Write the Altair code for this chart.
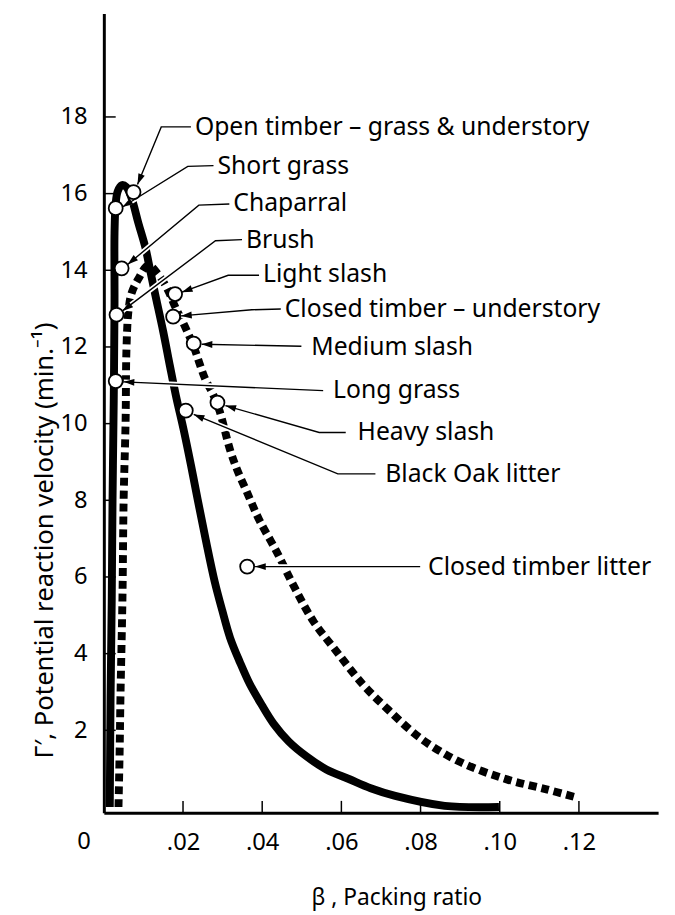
import math
import altair as alt
import pandas as pd

# ---------------- data ----------------
# Solid heavy curve (Gamma' vs beta)
solid_x = [0.0015, 0.0017, 0.0020, 0.0022, 0.0025, 0.0027, 0.0027, 0.0030, 0.0035, 0.0045,
           0.0057, 0.0070, 0.0087, 0.0105, 0.0117, 0.0130, 0.0150, 0.0167, 0.0182, 0.0202,
           0.0220, 0.0237, 0.0257, 0.0280, 0.0299, 0.0319, 0.0344, 0.0369, 0.0399, 0.0429,
           0.0467, 0.0512, 0.0562, 0.0619, 0.0674, 0.0736, 0.0861, 0.0998]
solid_y = [0.0, 2.87, 5.44, 8.02, 10.6, 13.17, 14.98, 15.75, 16.06, 16.22,
           16.17, 15.88, 15.24, 14.59, 14.0, 13.36, 12.40, 11.5, 10.73, 9.82,
           8.92, 8.02, 6.99, 5.88, 5.13, 4.41, 3.77, 3.2, 2.66, 2.17,
           1.71, 1.32, 0.98, 0.73, 0.49, 0.29, 0.03, 0.0]

# Dashed heavy curve
dashed_x = [0.0037, 0.0040, 0.0042, 0.0047, 0.0050, 0.0055, 0.0057, 0.0062, 0.0070, 0.0087,
            0.0112, 0.0137, 0.0162, 0.0180, 0.0205, 0.0227, 0.0255, 0.0275, 0.0292, 0.0319,
            0.0337, 0.0362, 0.0392, 0.0437, 0.0479, 0.0529, 0.0586, 0.0654, 0.0719, 0.0804,
            0.0903, 0.1018, 0.1118, 0.1190]
dashed_y = [0.0, 1.5, 2.87, 5.44, 8.02, 10.08, 11.89, 12.92, 13.4, 13.77,
            14.13, 13.9, 13.48, 13.05, 12.53, 12.01, 11.19, 10.78, 10.34, 9.31,
            8.79, 8.2, 7.5, 6.65, 5.78, 4.85, 4.08, 3.2, 2.53, 1.76,
            1.16, 0.72, 0.46, 0.26]

# Fuel types (open circles)
fuel_names = ["Open timber \u2013 grass & understory", "Short grass", "Chaparral", "Brush",
              "Light slash", "Closed timber \u2013 understory", "Medium slash", "Long grass",
              "Heavy slash", "Black Oak litter", "Closed timber litter"]
fuel_x = [0.0075, 0.0030, 0.0045, 0.0032, 0.0180, 0.0175, 0.0227, 0.0030, 0.0287, 0.0207, 0.0362]
fuel_y = [16.04, 15.62, 14.05, 12.84, 13.38, 12.79, 12.09, 11.11, 10.55, 10.34, 6.27]

# Annotation text anchors and leader lines (start -> elbow -> arrow tip)
label_x = [0.0230, 0.0287, 0.0327, 0.0359, 0.0402, 0.0457, 0.0524, 0.0579, 0.0641, 0.0711, 0.0819]
label_y = [17.74, 16.73, 15.75, 14.80, 13.90, 12.99, 11.99, 10.88, 9.77, 8.69, 6.27]
start_x = [0.0220, 0.0277, 0.0317, 0.0349, 0.0392, 0.0447, 0.0499, 0.0554, 0.0611, 0.0686, 0.0799]
start_y = [17.74, 16.73, 15.73, 14.80, 13.87, 12.99, 12.02, 10.86, 9.77, 8.69, 6.27]
elbow_x = [0.0145, 0.0212, 0.0240, 0.0282, 0.0314, 0.0374, 0.0499, 0.0554, 0.0544, 0.0591, 0.0799]
elbow_y = [17.74, 16.71, 15.70, 14.77, 13.87, 12.97, 12.02, 10.86, 9.77, 8.69, 6.27]
tip_x = [0.0085, 0.0047, 0.0060, 0.0047, 0.0197, 0.0195, 0.0247, 0.0050, 0.0307, 0.0227, 0.0382]
tip_y = [16.24, 15.65, 14.15, 12.94, 13.43, 12.81, 12.07, 11.09, 10.47, 10.24, 6.27]

x_ticks = [0.02, 0.04, 0.06, 0.08, 0.10, 0.12]
y_ticks = [2, 4, 6, 8, 10, 12, 14, 16, 18]

# ---------------- layout / style ----------------
W, H = 561, 809
X_DOM = [0.0, 0.14]
Y_DOM = [-0.15, 20.7]
FONT = "Noto Sans"
PXX = W / (X_DOM[1] - X_DOM[0])
PXY = H / (Y_DOM[1] - Y_DOM[0])

XS = alt.Scale(domain=X_DOM, nice=False, zero=False)
YS = alt.Scale(domain=Y_DOM, nice=False, zero=False)

x_axis = alt.Axis(
    values=x_ticks, labelExpr="replace(format(datum.value, '.2f'), '0.', '.')",
    title="\u03b2 , Packing ratio", titleFont=FONT, titleFontSize=23, titleFontWeight="normal",
    titleColor="black", titleX=296, titleY=86, titleAlign="center", titleBaseline="middle",
    labelFont=FONT, labelFontSize=24, labelColor="black", labelPadding=18, labelBaseline="top",
    ticks=False, tickSize=0, grid=False, domainColor="black", domainWidth=3,
    labelFlush=False, labelOverlap=False,
)
y_axis = alt.Axis(
    values=y_ticks, format="d",
    title="\u0393\u2032, Potential reaction velocity (min.\u207b\u00b9)", titleFont=FONT,
    titleFontSize=26, titleFontWeight="normal", titleColor="black", titleAngle=270,
    titleX=-60, titleY=533, titleAlign="center", titleBaseline="middle",
    labelFont=FONT, labelFontSize=24, labelColor="black", labelPadding=17,
    ticks=False, tickSize=0, grid=False, domainColor="black", domainWidth=3,
    labelFlush=False, labelOverlap=False,
)

solid_df = pd.DataFrame({"x": solid_x, "y": solid_y, "i": list(range(len(solid_x)))})
dashed_df = pd.DataFrame({"x": dashed_x, "y": dashed_y, "i": list(range(len(dashed_x)))})
fuel_df = pd.DataFrame({"name": fuel_names, "x": fuel_x, "y": fuel_y,
                        "lx": label_x, "ly": label_y})

rows = []
arrows = []
for k, nm in enumerate(fuel_names):
    pts = [(start_x[k], start_y[k]), (elbow_x[k], elbow_y[k]), (tip_x[k], tip_y[k])]
    for j, (px, py) in enumerate(pts):
        rows.append({"name": nm, "j": j, "x": px, "y": py})
    dxp = (tip_x[k] - elbow_x[k]) * PXX
    dyp = -(tip_y[k] - elbow_y[k]) * PXY
    if abs(dxp) + abs(dyp) < 1e-9:
        dxp = (tip_x[k] - start_x[k]) * PXX
        dyp = -(tip_y[k] - start_y[k]) * PXY
    ang = math.degrees(math.atan2(dxp, -dyp)) % 360
    arrows.append({"name": nm, "x": tip_x[k], "y": tip_y[k], "ang": ang})
leader_df = pd.DataFrame(rows)
arrow_df = pd.DataFrame(arrows)


def X(field):
    return alt.X(field, scale=XS, axis=x_axis)


def Y(field):
    return alt.Y(field, scale=YS, axis=y_axis)


solid = alt.Chart(solid_df).mark_line(
    color="black", strokeWidth=8, interpolate="catmull-rom", strokeJoin="round"
).encode(x=X("x:Q"), y=Y("y:Q"), order="i:Q")

dashed = alt.Chart(dashed_df).mark_line(
    color="black", strokeWidth=8, strokeDash=[8, 5], strokeCap="butt",
    interpolate="catmull-rom"
).encode(x=X("x:Q"), y=Y("y:Q"), order="i:Q")

halo = alt.Chart(leader_df).mark_line(color="white", strokeWidth=5).encode(
    x=X("x:Q"), y=Y("y:Q"), detail="name:N", order="j:Q")
leaders = alt.Chart(leader_df).mark_line(color="black", strokeWidth=1.4).encode(
    x=X("x:Q"), y=Y("y:Q"), detail="name:N", order="j:Q")

heads = alt.Chart(arrow_df).mark_point(
    shape="M0,0L-0.4,1.25L0.4,1.25Z", filled=True, color="black", opacity=1, size=300
).encode(x=X("x:Q"), y=Y("y:Q"), angle=alt.Angle("ang:Q", scale=None))

circles = alt.Chart(fuel_df).mark_point(
    shape="circle", filled=True, fill="white", stroke="black", strokeWidth=1.8,
    opacity=1, size=200
).encode(x=X("x:Q"), y=Y("y:Q"))

texts = alt.Chart(fuel_df).mark_text(
    align="left", baseline="middle", font=FONT, fontSize=25, color="black"
).encode(x=X("lx:Q"), y=Y("ly:Q"), text="name:N")

ytick_df = pd.DataFrame({"y": y_ticks})
xtick_df = pd.DataFrame({"x": x_ticks})
yt = alt.Chart(ytick_df).mark_rule(color="black", strokeWidth=1.5).encode(
    y=Y("y:Q"), x=alt.value(0), x2=alt.value(12))
xt = alt.Chart(xtick_df).mark_rule(color="black", strokeWidth=1.5).encode(
    x=X("x:Q"), y=alt.value(H), y2=alt.value(H - 12))

zero_df = pd.DataFrame({"x": [0.0], "t": ["0"]})
zero = alt.Chart(zero_df).mark_text(
    align="center", baseline="top", dx=-20, font=FONT, fontSize=24, color="black"
).encode(x=X("x:Q"), y=alt.value(H + 18), text="t:N")

chart = alt.layer(solid, dashed, halo, leaders, heads, circles, texts, yt, xt, zero).properties(
    width=W, height=H,
    background="white",
    autosize=alt.AutoSizeParams(type="none"),
    padding={"left": 97, "top": 0, "right": 9, "bottom": 98},
).configure_view(stroke=None)

chart.save("out.html", embed_options={"renderer": "svg", "actions": False})
